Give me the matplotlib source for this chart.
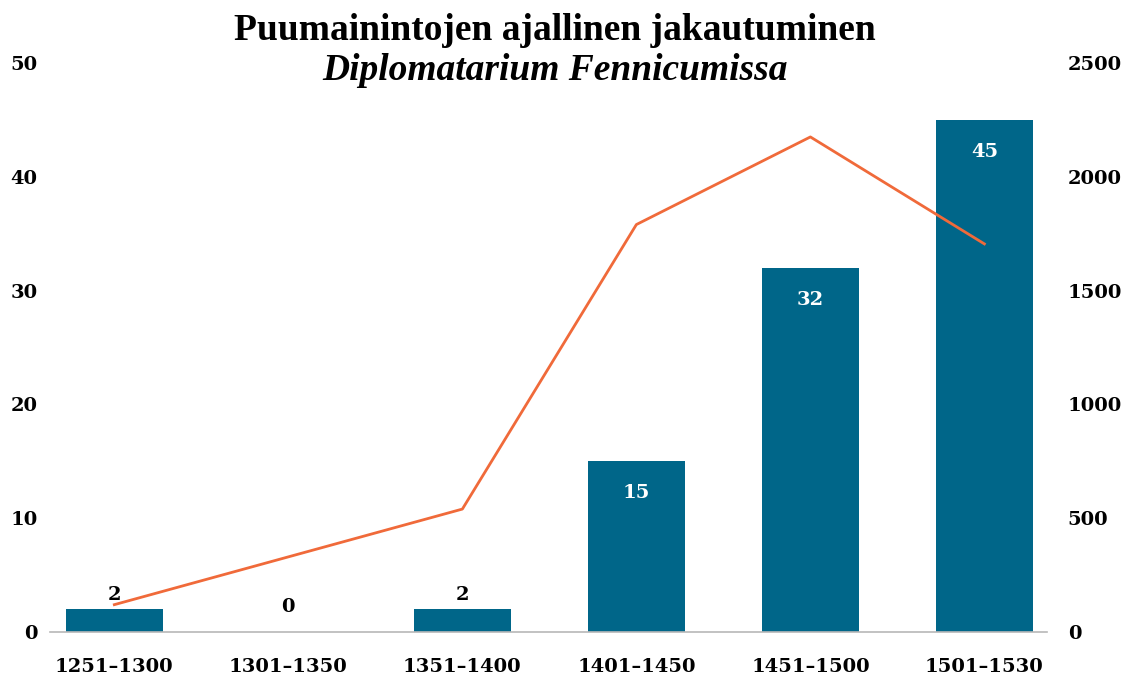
import numpy as np
import matplotlib.pyplot as plt

# Data
periods = ['1251–1300', '1301–1350', '1351–1400', '1401–1450', '1451–1500', '1501–1530']
mentions = [2, 0, 2, 15, 32, 45]               # bars, left axis
documents = [120, np.nan, 540, 1790, 2175, 1705]  # line, right axis (no point for 1301–1350)

bar_color = '#006689'
line_color = '#F06A3A'
tick_font = dict(family='DejaVu Serif', fontweight='bold', fontsize=14)

fig = plt.figure(figsize=(11.25, 6.77), dpi=100)
ax = fig.add_axes([0.0444, 0.0665, 0.8863, 0.8405])
ax2 = ax.twinx()

x = np.arange(len(periods))
bars = ax.bar(x, mentions, width=0.56, color=bar_color, zorder=2)

# line skips the missing value
docs = np.array(documents, dtype=float)
ok = ~np.isnan(docs)
ax2.plot(x[ok], docs[ok], color=line_color, lw=2.0, zorder=3)

# value labels
for xi, v in zip(x, mentions):
    if v < 5:
        ax.text(xi, v + 0.5 if v > 0 else 1.4, str(v), ha='center', va='bottom',
                color='black', **tick_font)
    else:
        ax.text(xi, v - 2.8, str(v), ha='center', va='center', color='white',
                **tick_font)

ax.set_xlim(-0.37, 5.36)
ax.set_ylim(0, 50)
ax2.set_ylim(0, 2500)
ax.set_yticks([0, 10, 20, 30, 40, 50])
ax2.set_yticks([0, 500, 1000, 1500, 2000, 2500])
ax.set_xticks(x)
ax.set_xticklabels(periods)

for a in (ax, ax2):
    for s in a.spines.values():
        s.set_visible(False)
    a.tick_params(length=0)
ax.spines['bottom'].set_visible(True)
ax.spines['bottom'].set_color('#b8b8b8')
ax.spines['bottom'].set_linewidth(1.2)

ax.tick_params(axis='x', pad=19)
ax.tick_params(axis='y', pad=9)
ax2.tick_params(axis='y', pad=15)
for lab in ax.get_xticklabels() + ax.get_yticklabels() + ax2.get_yticklabels():
    lab.set_fontfamily('DejaVu Serif')
    lab.set_fontweight('bold')
    lab.set_fontsize(14)

fig.text(0.493, 0.955, 'Puumainintojen ajallinen jakautuminen', ha='center', va='center',
         family='Liberation Serif', fontweight='bold', fontsize=27)
fig.text(0.493, 0.896, 'Diplomatarium Fennicumissa', ha='center', va='center',
         family='Liberation Serif', fontweight='bold', fontstyle='italic', fontsize=27)

fig.savefig('out.png', dpi=100)
